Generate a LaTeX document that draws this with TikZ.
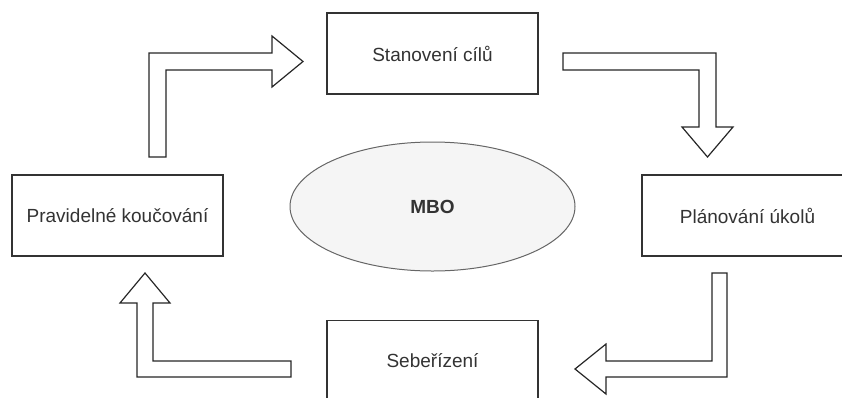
\documentclass[tikz,border=0pt]{standalone}
\usepackage{fontspec}
\setmainfont{Liberation Sans}
\usepackage{xcolor}
\usetikzlibrary{shapes,positioning}

\definecolor{boxline}{HTML}{333333}
\definecolor{txtgray}{HTML}{333333}
\definecolor{ellfill}{HTML}{F5F5F5}
\definecolor{ellline}{HTML}{666666}

\tikzset{
    stepbox/.style={draw=boxline, line width=1.3pt, fill=white, minimum width=211pt, minimum height=81pt, inner sep=0pt, text=txtgray, font=\fontsize{19}{23}\selectfont},
    blockarrow/.style={draw=black!85, line width=1.2pt, fill=white, line join=miter}
}

\begin{document}
\begin{tikzpicture}[x=1pt, y=-1pt]
        \useasboundingbox (0,0) rectangle (842,397);

        % Centre ellipse
        \node[ellipse, draw=ellline, line width=1pt, fill=ellfill, minimum width=285pt, minimum height=129pt, text=txtgray, font=\fontsize{19}{23}\selectfont\bfseries] (mbo) at (432.5,206.5) {MBO};

        % Cycle steps
        \node[stepbox] (cile) at (432.5,53.5) {Stanovení cílů};
        \node[stepbox] (ukoly) at (747.5,215.5) {Plánování úkolů};
        \node[stepbox] (rizeni) at (432.5,361) {Sebeřízení};
        \node[stepbox] (kouc) at (117.5,215.5) {Pravidelné koučování};

        % Block arrows
        \draw[blockarrow] (149,157) -- (149,53) -- (272,53) -- (272,36) -- (303,61.5) -- (272,87) -- (272,70) -- (166,70) -- (166,157) -- cycle;
        \draw[blockarrow] (563,53) -- (716,53) -- (716,127) -- (733,127) -- (707.5,157) -- (682,127) -- (699,127) -- (699,70) -- (563,70) -- cycle;
        \draw[blockarrow] (712,273) -- (727,273) -- (727,377) -- (606,377) -- (606,394) -- (575,369) -- (606,344) -- (606,361) -- (712,361) -- cycle;
        \draw[blockarrow] (291,361) -- (291,377) -- (137,377) -- (137,303) -- (120,303) -- (145,273) -- (170,303) -- (153,303) -- (153,361) -- cycle;
    \end{tikzpicture}
\end{document}
